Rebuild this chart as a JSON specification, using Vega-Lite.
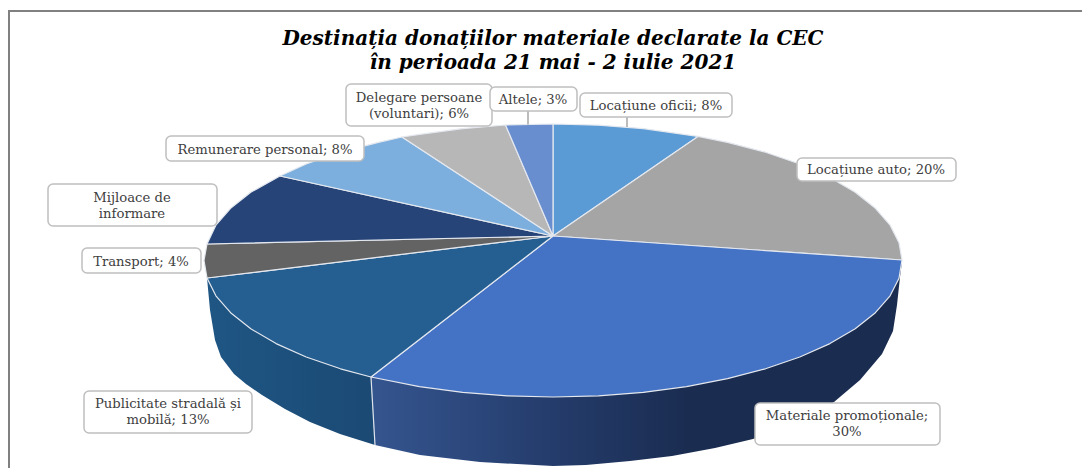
{"$schema":"https://vega.github.io/schema/vega-lite/v6.json","width":1082,"height":468,"autosize":{"type":"none"},"padding":0,"background":"white","view":{"stroke":null},
"encoding":{"x":{"field":"x","type":"quantitative","scale":{"domain":[0,1082]},"axis":null},"y":{"field":"y","type":"quantitative","scale":{"domain":[468,0]},"axis":null}},
"layer":[
{"data":{"values":[{"x":9,"y":468,"o":0},{"x":9,"y":11,"o":1},{"x":1082,"y":11,"o":2}]},"mark":{"type":"line","color":"#808080","strokeWidth":2},"encoding":{"order":{"field":"o"}}},
{"data":{"values":[{"x":207,"y":278,"o":0},{"x":210,"y":310,"o":1},{"x":215,"y":340,"o":2},{"x":221,"y":357,"o":3},{"x":234,"y":374,"o":4},{"x":246,"y":384,"o":5},{"x":262,"y":395,"o":6},{"x":285,"y":409,"o":7},{"x":310,"y":422,"o":8},{"x":340,"y":434,"o":9},{"x":375,"y":445,"o":10},{"x":371,"y":377,"o":11},{"x":553,"y":300,"o":12}]},"mark":{"type":"line","filled":true,"strokeWidth":0,"fill":{"gradient":"linear","x1":0,"x2":1,"y1":0,"y2":0,"stops":[{"offset":0,"color":"#1f5684"},{"offset":0.45,"color":"#1b4a75"},{"offset":1,"color":"#1b3f68"}]}},"encoding":{"order":{"field":"o"}}},
{"data":{"values":[{"x":371,"y":377,"o":0},{"x":375,"y":445,"o":1},{"x":420,"y":455,"o":2},{"x":480,"y":462,"o":3},{"x":553,"y":466,"o":4},{"x":586,"y":465,"o":5},{"x":630,"y":461,"o":6},{"x":672,"y":456,"o":7},{"x":715,"y":448,"o":8},{"x":753,"y":439,"o":9},{"x":795,"y":423,"o":10},{"x":834,"y":402,"o":11},{"x":860,"y":380,"o":12},{"x":882,"y":354,"o":13},{"x":893,"y":331,"o":14},{"x":897,"y":305,"o":15},{"x":900,"y":277,"o":16},{"x":902,"y":262,"o":17},{"x":553,"y":300,"o":18}]},"mark":{"type":"line","filled":true,"strokeWidth":0,"fill":{"gradient":"linear","x1":0,"x2":1,"y1":0,"y2":0,"stops":[{"offset":0,"color":"#35558f"},{"offset":0.3,"color":"#263f70"},{"offset":0.6,"color":"#1a2c50"},{"offset":1,"color":"#1a2c50"}]}},"encoding":{"order":{"field":"o"}}},
{"data":{"values":[{"s":"Locațiune oficii","o":0,"x":553,"y":236},{"s":"Locațiune oficii","o":1,"x":553,"y":124},{"s":"Locațiune oficii","o":2,"x":598.5,"y":125.2},{"s":"Locațiune oficii","o":3,"x":643.3,"y":128.6},{"s":"Locațiune oficii","o":4,"x":698,"y":136.4},{"s":"Locațiune oficii","o":5,"x":553,"y":236},
{"s":"Locațiune auto","o":0,"x":553,"y":236},{"s":"Locațiune auto","o":1,"x":698,"y":136.4},{"s":"Locațiune auto","o":2,"x":727.5,"y":142.3},{"s":"Locațiune auto","o":3,"x":765.5,"y":152.2},{"s":"Locațiune auto","o":4,"x":799.8,"y":164},{"s":"Locațiune auto","o":5,"x":829.9,"y":177.4},{"s":"Locațiune auto","o":6,"x":855.2,"y":192.3},{"s":"Locațiune auto","o":7,"x":875.4,"y":208.3},{"s":"Locațiune auto","o":8,"x":890.1,"y":225.2},{"s":"Locațiune auto","o":9,"x":899,"y":242.7},{"s":"Locațiune auto","o":10,"x":902,"y":260},{"s":"Locațiune auto","o":11,"x":553,"y":236},
{"s":"Materiale promoționale","o":0,"x":553,"y":236},{"s":"Materiale promoționale","o":1,"x":902,"y":260},{"s":"Materiale promoționale","o":2,"x":899,"y":278.3},{"s":"Materiale promoționale","o":3,"x":890.1,"y":295.8},{"s":"Materiale promoționale","o":4,"x":875.4,"y":312.7},{"s":"Materiale promoționale","o":5,"x":855.2,"y":328.8},{"s":"Materiale promoționale","o":6,"x":829.9,"y":343.6},{"s":"Materiale promoționale","o":7,"x":799.8,"y":357},{"s":"Materiale promoționale","o":8,"x":765.5,"y":368.8},{"s":"Materiale promoționale","o":9,"x":727.5,"y":378.7},{"s":"Materiale promoționale","o":10,"x":686.6,"y":386.6},{"s":"Materiale promoționale","o":11,"x":643.3,"y":392.4},{"s":"Materiale promoționale","o":12,"x":598.5,"y":395.8},{"s":"Materiale promoționale","o":13,"x":553,"y":397},{"s":"Materiale promoționale","o":14,"x":507.5,"y":395.8},{"s":"Materiale promoționale","o":15,"x":462.7,"y":392.4},{"s":"Materiale promoționale","o":16,"x":419.4,"y":386.6},{"s":"Materiale promoționale","o":17,"x":371,"y":377},{"s":"Materiale promoționale","o":18,"x":553,"y":236},
{"s":"Publicitate","o":0,"x":553,"y":236},{"s":"Publicitate","o":1,"x":371,"y":377},{"s":"Publicitate","o":2,"x":340.5,"y":368.8},{"s":"Publicitate","o":3,"x":306.2,"y":357},{"s":"Publicitate","o":4,"x":276.1,"y":343.6},{"s":"Publicitate","o":5,"x":250.8,"y":328.8},{"s":"Publicitate","o":6,"x":230.6,"y":312.7},{"s":"Publicitate","o":7,"x":215.9,"y":295.8},{"s":"Publicitate","o":8,"x":207,"y":278},{"s":"Publicitate","o":9,"x":553,"y":236},
{"s":"Transport","o":0,"x":553,"y":236},{"s":"Transport","o":1,"x":207,"y":278},{"s":"Transport","o":2,"x":204,"y":260.5},{"s":"Transport","o":3,"x":207,"y":244},{"s":"Transport","o":4,"x":553,"y":236},
{"s":"Mijloace","o":0,"x":553,"y":236},{"s":"Mijloace","o":1,"x":207,"y":244},{"s":"Mijloace","o":2,"x":215.9,"y":225.2},{"s":"Mijloace","o":3,"x":230.6,"y":208.3},{"s":"Mijloace","o":4,"x":250.8,"y":192.3},{"s":"Mijloace","o":5,"x":280,"y":176},{"s":"Mijloace","o":6,"x":553,"y":236},
{"s":"Remunerare","o":0,"x":553,"y":236},{"s":"Remunerare","o":1,"x":280,"y":176},{"s":"Remunerare","o":2,"x":306.2,"y":164},{"s":"Remunerare","o":3,"x":340.5,"y":152.2},{"s":"Remunerare","o":4,"x":378.5,"y":142.3},{"s":"Remunerare","o":5,"x":402,"y":137},{"s":"Remunerare","o":6,"x":553,"y":236},
{"s":"Delegare","o":0,"x":553,"y":236},{"s":"Delegare","o":1,"x":402,"y":137},{"s":"Delegare","o":2,"x":419.4,"y":134.4},{"s":"Delegare","o":3,"x":462.7,"y":128.6},{"s":"Delegare","o":4,"x":505.5,"y":125},{"s":"Delegare","o":5,"x":553,"y":236},
{"s":"Altele","o":0,"x":553,"y":236},{"s":"Altele","o":1,"x":505.5,"y":125},{"s":"Altele","o":2,"x":553,"y":124},{"s":"Altele","o":3,"x":553,"y":236}]},
"mark":{"type":"line","filled":true,"stroke":"#e4e8ef","strokeWidth":1.2,"strokeJoin":"round"},
"encoding":{"order":{"field":"o"},"fill":{"field":"s","type":"nominal","legend":null,"scale":{"domain":["Locațiune oficii","Locațiune auto","Materiale promoționale","Publicitate","Transport","Mijloace","Remunerare","Delegare","Altele"],"range":["#5b9bd5","#a5a5a5","#4472c4","#255e91","#636363","#264478","#7cafdd","#b7b7b7","#698ed0"]}},"detail":{"field":"s"}}},
{"data":{"values":[{"x":371,"y":377,"o":0},{"x":375,"y":445,"o":1}]},"mark":{"type":"line","color":"#dfe4ec","strokeWidth":1.2},"encoding":{"order":{"field":"o"}}},
{"data":{"values":[{"n":"a","x":528,"y":111},{"n":"a","x":528,"y":124.5},{"n":"b","x":627,"y":117},{"n":"b","x":627,"y":127}]},"mark":{"type":"line","color":"#a6a6a6","strokeWidth":1.5},"encoding":{"detail":{"field":"n"}}},
{"data":{"values":[{"x":346,"x2":492,"y":84,"y2":126},{"x":490,"x2":577,"y":87,"y2":111},{"x":580,"x2":732,"y":93,"y2":117},{"x":166,"x2":364,"y":136,"y2":161},{"x":48,"x2":217,"y":184,"y2":226},{"x":797,"x2":956,"y":158,"y2":181},{"x":82,"x2":201,"y":248,"y2":273},{"x":84,"x2":252,"y":391,"y2":433},{"x":755,"x2":940,"y":403,"y2":445}]},"mark":{"type":"rect","fill":"white","stroke":"#bfbfbf","strokeWidth":1.5,"cornerRadius":5},"encoding":{"x2":{"field":"x2"},"y2":{"field":"y2"}}},
{"data":{"values":[{"t":"Delegare persoane","x":419,"y":98},{"t":"(voluntari); 6%","x":419,"y":114},{"t":"Altele; 3%","x":533,"y":100},{"t":"Locațiune oficii; 8%","x":656,"y":106},{"t":"Remunerare personal; 8%","x":265,"y":150},{"t":"Mijloace de","x":132,"y":198},{"t":"informare","x":132,"y":214},{"t":"Locațiune auto; 20%","x":876,"y":170},{"t":"Transport; 4%","x":141,"y":262},{"t":"Publicitate stradală și","x":168,"y":404},{"t":"mobilă; 13%","x":168,"y":420},{"t":"Materiale promoționale;","x":847,"y":416},{"t":"30%","x":847,"y":432}]},"mark":{"type":"text","font":"DejaVu Serif","fontSize":13.2,"color":"#404040","align":"center","baseline":"middle"},"encoding":{"text":{"field":"t"}}},
{"data":{"values":[{"t":"Destinația donațiilor materiale declarate la CEC","x":553,"y":39},{"t":"în perioada 21 mai - 2 iulie 2021","x":553,"y":63}]},"mark":{"type":"text","font":"DejaVu Serif","fontSize":20,"fontStyle":"italic","fontWeight":"bold","color":"#000000","align":"center","baseline":"middle"},"encoding":{"text":{"field":"t"}}}
]}
